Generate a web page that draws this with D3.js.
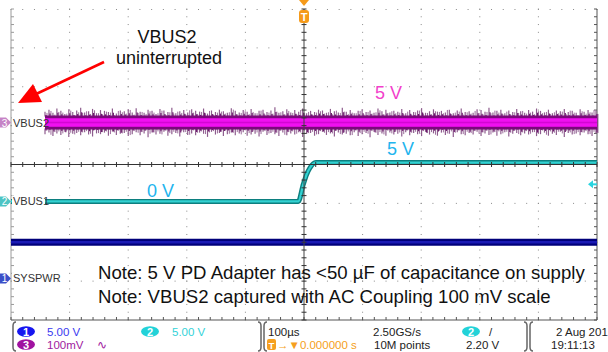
<!DOCTYPE html>
<html><head><meta charset="utf-8">
<script src="https://cdn.jsdelivr.net/npm/d3@7"></script>
<style>html,body{margin:0;padding:0;background:#fff;}svg{display:block;font-family:"Liberation Sans",Arial,sans-serif;}</style>
</head><body>
<svg id="c" width="608" height="352"></svg>
<script>
// ---- data ----
const xDomainUs = [-500, 500];            // 100 µs/div, 10 div
const yDomainDiv = [-4, 4];               // 8 vertical divisions
const vbus1Time = [-500, -9.7, -1.2, 4.6, 10, 20, 500];   // µs
const vbus1Volt = [0, 0, 2.2, 3.5, 4.3, 5.0, 5.0];        // V (5 V/div)
const sysTime = [-500, 500];
const sysVolt = [4.65, 4.65];                              // V (5 V/div)
const vbus2Peaks = [28,33,25,36,30,22,34,27,31,38,26,29,35,24,32,30,27,36,23,31,
 29,34,26,37,28,25,33,30,22,35,31,27,38,24,29,32,26,34,30,28,
 36,23,31,27,33,29,25,37,30,26,32,28,35,24,30,33,27,31,39,25,
 29,34,26,32,28,36,24,30,27,33,31,25,35,29,26,38,28,32,24,30,
 34,27,31,25,36,29,33,26,30,28,35,24,32,27,31,37,25,29,34,28,
 30,26,33,24,31,36,27,29,25,34,32,28,38,26,30,33,24,31,27,35,
 29,25,32,28,36,30,26,33,24,31,29,35,27,30,25,34,28,32,26,31];   // mV
const vbus2Troughs = [-30,-26,-35,-28,-32,-24,-37,-29,-27,-33,-25,-31,-36,-28,-30,-26,-34,-23,-32,-29,
 -27,-35,-30,-25,-33,-28,-38,-26,-31,-29,-24,-34,-30,-27,-36,-25,-32,-28,-33,-26,
 -29,-37,-24,-31,-27,-35,-30,-26,-33,-28,-25,-34,-31,-29,-36,-24,-32,-27,-30,-35,
 -26,-33,-28,-31,-25,-37,-29,-27,-34,-30,-24,-32,-28,-36,-26,-31,-29,-33,-25,-35,
 -30,-27,-38,-24,-32,-28,-34,-26,-31,-29,-36,-25,-33,-27,-30,-35,-24,-31,-28,-34,
 -26,-32,-29,-37,-25,-30,-33,-27,-31,-24,-35,-28,-32,-26,-34,-30,-25,-36,-29,-27,
 -33,-28,-31,-25,-35,-30,-26,-34,-29,-32,-24,-37,-27,-31,-28,-33,-26,-30,-35,-29]; // mV
const ch1Offset = -2.93, ch2Offset = -0.95, ch3Offset = 1.08;    // divisions
const ch1Scale = 5, ch2Scale = 5, ch3Scale = 100;               // V/div, V/div, mV/div
const triggerLevel = 2.20;
const annoTitle = ["VBUS2", "uninterrupted"];
const notes = ["Note: 5 V PD Adapter has <50 µF of capacitance on supply",
               "Note: VBUS2 captured with AC Coupling 100 mV scale"];
const levelLabels = [{t:"5 V", c:"#f23fcb"}, {t:"5 V", c:"#22b4ee"}, {t:"0 V", c:"#22b4ee"}];

// ---- scales ----
const svg = d3.select("#c");
const L = 11, R = 597, T = 9, B = 320;
const x = d3.scaleLinear().domain(xDomainUs).range([L, R]);
const y = d3.scaleLinear().domain(yDomainDiv).range([B, T]);
const y1 = v => y(ch1Offset + v / ch1Scale);
const y2 = v => y(ch2Offset + v / ch2Scale);
const y3 = mv => y(ch3Offset + mv / ch3Scale);

// ---- grid ----
const g = svg.append("g");
const minorX = d3.range(-500, 500.1, 20);
const minorY = d3.range(-4, 4.01, 0.2);
const majorX = d3.range(-400, 401, 100).filter(d => d !== 0);
const majorY = d3.range(-3, 3.1, 1).filter(d => d !== 0);
majorX.forEach(mx => minorY.forEach(my => g.append("rect").attr("x", x(mx) - 0.5).attr("y", y(my) - 0.5).attr("width", 1).attr("height", 1).attr("fill", "#8a8a8a")));
majorY.forEach(my => minorX.forEach(mx => g.append("rect").attr("x", x(mx) - 0.5).attr("y", y(my) - 0.5).attr("width", 1).attr("height", 1).attr("fill", "#8a8a8a")));
minorX.forEach(mx => g.append("rect").attr("x", x(mx) - 0.5).attr("y", T).attr("width", 1).attr("height", 1).attr("fill", "#8a8a8a"));
g.append("line").attr("x1", L).attr("x2", L).attr("y1", T).attr("y2", B).attr("stroke", "#9a9a9a");
g.append("line").attr("x1", R).attr("x2", R).attr("y1", T).attr("y2", B).attr("stroke", "#555");
g.append("line").attr("x1", L).attr("x2", R).attr("y1", B).attr("y2", B).attr("stroke", "#555");
minorY.forEach(my => {
  g.append("line").attr("x1", L).attr("x2", L + 3).attr("y1", y(my)).attr("y2", y(my)).attr("stroke", "#9a9a9a");
  g.append("line").attr("x1", R - 3).attr("x2", R).attr("y1", y(my)).attr("y2", y(my)).attr("stroke", "#555");
});
minorX.forEach(mx => g.append("line").attr("x1", x(mx)).attr("x2", x(mx)).attr("y1", B - 3).attr("y2", B).attr("stroke", "#555"));

// ---- VBUS2 (ch3) noisy trace ----
const tr = svg.append("g");
const nN = vbus2Peaks.length;
const xs3 = d3.scaleLinear().domain([0, nN - 1]).range([45, R - 1]);
const step = xs3(1) - xs3(0);
vbus2Peaks.forEach((p, i) => {
  tr.append("line").attr("x1", xs3(i)).attr("x2", xs3(i)).attr("y1", y3(p)).attr("y2", y3(vbus2Troughs[i]))
    .attr("stroke", "#8e5c8e").attr("stroke-width", 1.2);
  const xh = xs3(i) + step / 2;
  tr.append("line").attr("x1", xh).attr("x2", xh).attr("y1", y3(vbus2Peaks[(i + 11) % nN] * 0.85)).attr("y2", y3(vbus2Troughs[(i + 5) % nN] * 0.85))
    .attr("stroke", "#9b6a9b").attr("stroke-width", 1);
});
vbus2Peaks.forEach((p, i) => {
  const xi = xs3(i) + step / 4;
  tr.append("line").attr("x1", xi).attr("x2", xi).attr("y1", y3(p * 0.7)).attr("y2", y3(vbus2Troughs[(i + 7) % nN] * 0.7))
    .attr("stroke", "#6d1a6d").attr("stroke-width", 1.2);
});
tr.append("rect").attr("x", 45).attr("width", R - 45).attr("y", y3(18)).attr("height", y3(-18) - y3(18)).attr("fill", "#7a0a7a");
tr.append("rect").attr("x", 45).attr("width", R - 45).attr("y", y3(11)).attr("height", y3(-11) - y3(11)).attr("fill", "#f010f0");
tr.append("rect").attr("x", 45).attr("width", R - 45).attr("y", y3(2)).attr("height", y3(-2) - y3(2)).attr("fill", "#c000c0").attr("opacity", 0.6);

// ---- SYSPWR (ch1) ----
const line1 = d3.line().x((d, i) => x(sysTime[i])).y(d => y1(d));
tr.append("path").datum(sysVolt).attr("d", line1).attr("stroke", "#00007a").attr("stroke-width", 7).attr("fill", "none");
tr.append("path").datum(sysVolt).attr("d", line1).attr("stroke", "#1a1ab4").attr("stroke-width", 2.5).attr("fill", "none");

// ---- VBUS1 (ch2) ----
const line2 = d3.line().x((d, i) => x(vbus1Time[i])).y(d => y2(d)).curve(d3.curveMonotoneX);
tr.append("path").datum(vbus1Volt).attr("d", line2).attr("stroke", "#0c7f7f").attr("stroke-width", 5).attr("fill", "none");
tr.append("path").datum(vbus1Volt).attr("d", line2).attr("stroke", "#33d2d2").attr("stroke-width", 2.2).attr("fill", "none");

// ---- centre crosshair ----
const cx = x(0), cy = y(0);
const cg = svg.append("g");
cg.append("line").attr("x1", L).attr("x2", R).attr("y1", cy).attr("y2", cy).attr("stroke", "#333");
cg.append("line").attr("x1", cx).attr("x2", cx).attr("y1", T).attr("y2", B).attr("stroke", "#444");
minorX.forEach(mx => cg.append("line").attr("x1", x(mx)).attr("x2", x(mx)).attr("y1", cy - 2.5).attr("y2", cy + 2.5).attr("stroke", "#333"));
minorY.forEach(my => cg.append("line").attr("x1", cx - 2.5).attr("x2", cx + 2.5).attr("y1", y(my)).attr("y2", y(my)).attr("stroke", "#333"));

// ---- trigger marker top ----
const tg = svg.append("g");
tg.append("path").attr("d", `M${cx - 5},0 L${cx + 5},0 L${cx},6 Z`).attr("fill", "#f59a1a");
tg.append("rect").attr("x", cx - 5).attr("y", 10).attr("width", 10).attr("height", 13).attr("rx", 3).attr("fill", "#f59a1a");
tg.append("text").attr("x", cx).attr("y", 21).attr("text-anchor", "middle").attr("font-size", 11).attr("font-weight", "bold").attr("fill", "#fff").text("T");
const yTl = y2(triggerLevel);
tg.append("path").attr("d", `M${R - 9},${yTl} L${R - 4},${yTl - 4} L${R - 4},${yTl + 4} Z`).attr("fill", "#2ad4e0");
tg.append("line").attr("x1", R - 5).attr("x2", R).attr("y1", yTl).attr("y2", yTl).attr("stroke", "#2ad4e0").attr("stroke-width", 2);

// ---- channel markers & labels ----
const chans = [
  {n: "3", name: "VBUS2", yy: y3(0), col: "#c683c6"},
  {n: "2", name: "VBUS1", yy: y2(0), col: "#4cc4c4"},
  {n: "1", name: "SYSPWR", yy: y1(0), col: "#3a4fc8"}
];
chans.forEach(c => {
  svg.append("path").attr("d", `M0,${c.yy - 5} L6,${c.yy - 5} L11,${c.yy} L6,${c.yy + 5} L0,${c.yy + 5} Z`).attr("fill", c.col);
  svg.append("text").attr("x", 4.5).attr("y", c.yy + 4).attr("text-anchor", "middle").attr("font-size", 10).attr("fill", "#fff").text(c.n);
  const w = c.name.length * 6.2 + 2;
  svg.append("rect").attr("x", 12).attr("y", c.yy - 6).attr("width", w).attr("height", 12).attr("fill", "#fff");
  svg.append("text").attr("x", 13).attr("y", c.yy + 4).attr("font-size", 11).attr("fill", "#333").text(c.name);
});

// ---- annotations ----
const an = svg.append("g");
an.append("text").attr("x", 167).attr("y", 43).attr("text-anchor", "middle").attr("font-size", 18).attr("fill", "#111").text(annoTitle[0]);
an.append("text").attr("x", 169).attr("y", 64).attr("text-anchor", "middle").attr("font-size", 18).attr("fill", "#111").text(annoTitle[1]);
an.append("line").attr("x1", 104).attr("y1", 62).attr("x2", 34).attr("y2", 95).attr("stroke", "#f00").attr("stroke-width", 2.5);
an.append("path").attr("d", "M18,103 L33,84 L42,102 Z").attr("fill", "#f00");
an.append("text").attr("x", 375).attr("y", 99).attr("font-size", 18).attr("fill", levelLabels[0].c).text(levelLabels[0].t);
an.append("text").attr("x", 387).attr("y", 155).attr("font-size", 18).attr("fill", levelLabels[1].c).text(levelLabels[1].t);
an.append("text").attr("x", 147).attr("y", 197).attr("font-size", 18).attr("fill", levelLabels[2].c).text(levelLabels[2].t);
an.append("text").attr("x", 98).attr("y", 279).attr("font-size", 18.6).attr("fill", "#111").text(notes[0]);
an.append("text").attr("x", 98).attr("y", 303).attr("font-size", 18.6).attr("fill", "#111").text(notes[1]);

// ---- status bar ----
const sb = svg.append("g").attr("font-size", 11.5);
const bracket = (x0, dir) => `M${x0 + 3 * dir},322 Q${x0},322 ${x0},326 L${x0},347 Q${x0},351 ${x0 + 3 * dir},351`;
sb.append("path").attr("d", bracket(13, 1)).attr("stroke", "#666").attr("fill", "none").attr("stroke-width", 1.5);
[262, 528].forEach(bx => {
  sb.append("path").attr("d", bracket(bx - 1, -1)).attr("stroke", "#666").attr("fill", "none").attr("stroke-width", 1.5);
  sb.append("path").attr("d", bracket(bx + 2, 1)).attr("stroke", "#666").attr("fill", "none").attr("stroke-width", 1.5);
});
const oval = (cx0, cy0, col, n) => {
  sb.append("ellipse").attr("cx", cx0).attr("cy", cy0).attr("rx", 9).attr("ry", 5.2).attr("fill", col);
  sb.append("text").attr("x", cx0).attr("y", cy0 + 4).attr("text-anchor", "middle").attr("font-size", 11).attr("font-weight", "bold").attr("fill", "#fff").text(n);
};
oval(26, 331.5, "#1616f0", "1");
oval(26, 344.5, "#a012a0", "3");
oval(150, 331.5, "#22d2d8", "2");
oval(471, 331.5, "#22d2d8", "2");
sb.append("text").attr("x", 47).attr("y", 336).attr("fill", "#3a3af0").text("5.00 V");
sb.append("text").attr("x", 47).attr("y", 349).attr("fill", "#a020a0").text("100mV");
sb.append("text").attr("x", 97).attr("y", 349).attr("fill", "#a020a0").text("∿");
sb.append("text").attr("x", 172).attr("y", 336).attr("fill", "#33d2d8").text("5.00 V");
sb.append("text").attr("x", 268).attr("y", 336).attr("fill", "#222").text("100µs");
sb.append("rect").attr("x", 267).attr("y", 339).attr("width", 9).attr("height", 11).attr("rx", 2).attr("fill", "#f5a020");
sb.append("text").attr("x", 271.5).attr("y", 348.5).attr("text-anchor", "middle").attr("font-size", 9.5).attr("font-weight", "bold").attr("fill", "#fff").text("T");
sb.append("text").attr("x", 277).attr("y", 349).attr("fill", "#f5a020").text("→▼0.000000 s");
sb.append("text").attr("x", 373).attr("y", 336).attr("fill", "#222").text("2.50GS/s");
sb.append("text").attr("x", 374).attr("y", 349).attr("fill", "#222").text("10M points");
sb.append("text").attr("x", 489).attr("y", 336).attr("fill", "#222").text("/");
sb.append("text").attr("x", 466).attr("y", 349).attr("fill", "#222").text("2.20 V");
sb.append("text").attr("x", 556).attr("y", 336).attr("fill", "#222").text("2 Aug 201");
sb.append("text").attr("x", 551).attr("y", 349).attr("fill", "#222").text("19:11:13");
</script>
</body></html>
